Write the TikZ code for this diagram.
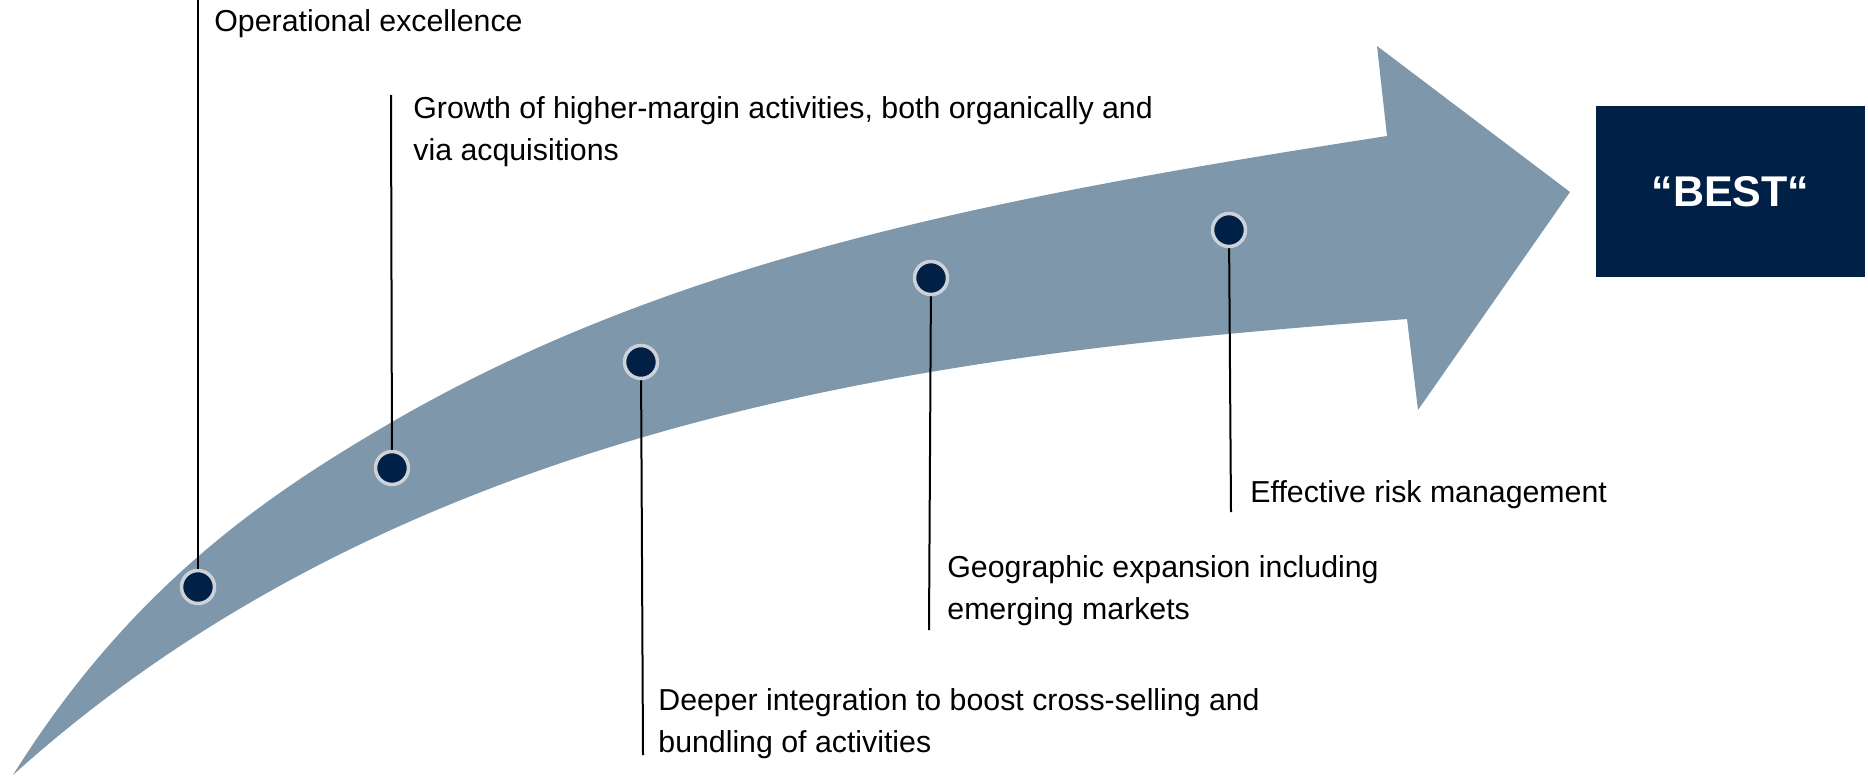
\documentclass[tikz,border=0pt]{standalone}
\usepackage{fontspec}
\setmainfont{Liberation Sans}
\definecolor{bandcol}{HTML}{7F97AA}
\definecolor{navy}{HTML}{002145}
\definecolor{ringcol}{HTML}{CDD2D9}
\tikzset{
  band/.style={fill=bandcol},
  dot/.style={circle, inner sep=0pt, minimum size=16.5pt, fill=navy, draw=ringcol, line width=1.75pt},
  leader/.style={draw=black, line width=1pt},
  label/.style={anchor=base west, inner sep=0pt, align=left, font=\fontsize{15.15pt}{21pt}\selectfont},
  bestbox/.style={fill=navy, inner sep=0pt, minimum width=134.5pt, minimum height=85.5pt, text=white, font=\fontsize{21.5pt}{25pt}\selectfont\bfseries}
}
\begin{document}
\begin{tikzpicture}[x=0.5pt, y=-0.5pt]
\useasboundingbox (0,0) rectangle (1868,776);
% curved arrow
\fill[band] (13,775) .. controls (133,583) and (272,492) .. (392,422)
  .. controls (672,260) and (987,198) .. (1387,136)
  -- (1377,46) -- (1570,192) -- (1418,410) -- (1407,319)
  .. controls (1007,350) and (432,397) .. (13,775) -- cycle;
% target box
\node[bestbox] (best) at (1730.5,191.5) {“BEST“};
% milestones
\node[dot] (d1) at (198,587) {};
\node[dot] (d2) at (392,468) {};
\node[dot] (d3) at (641,362) {};
\node[dot] (d4) at (931,278) {};
\node[dot] (d5) at (1229,230) {};
% leader ends
\coordinate (e1) at (198,0);
\coordinate (e2) at (391,95);
\coordinate (e3) at (643,755);
\coordinate (e4) at (929,630);
\coordinate (e5) at (1231,512);
\draw[leader] (d1) -- (e1);
\draw[leader] (d2) -- (e2);
\draw[leader] (d3) -- (e3);
\draw[leader] (d4) -- (e4);
\draw[leader] (d5) -- (e5);
% labels (base anchor = last line for multi-line nodes)
\node[label] (t1) at (214,32) {Operational excellence};
\node[label] (t2) at (413,160) {Growth of higher-margin activities, both organically and\\via acquisitions};
\node[label] (t3) at (658,752) {Deeper integration to boost cross-selling and\\bundling of activities};
\node[label] (t4) at (947,619) {Geographic expansion including\\emerging markets};
\node[label] (t5) at (1250,502) {Effective risk management};
\end{tikzpicture}
\end{document}
